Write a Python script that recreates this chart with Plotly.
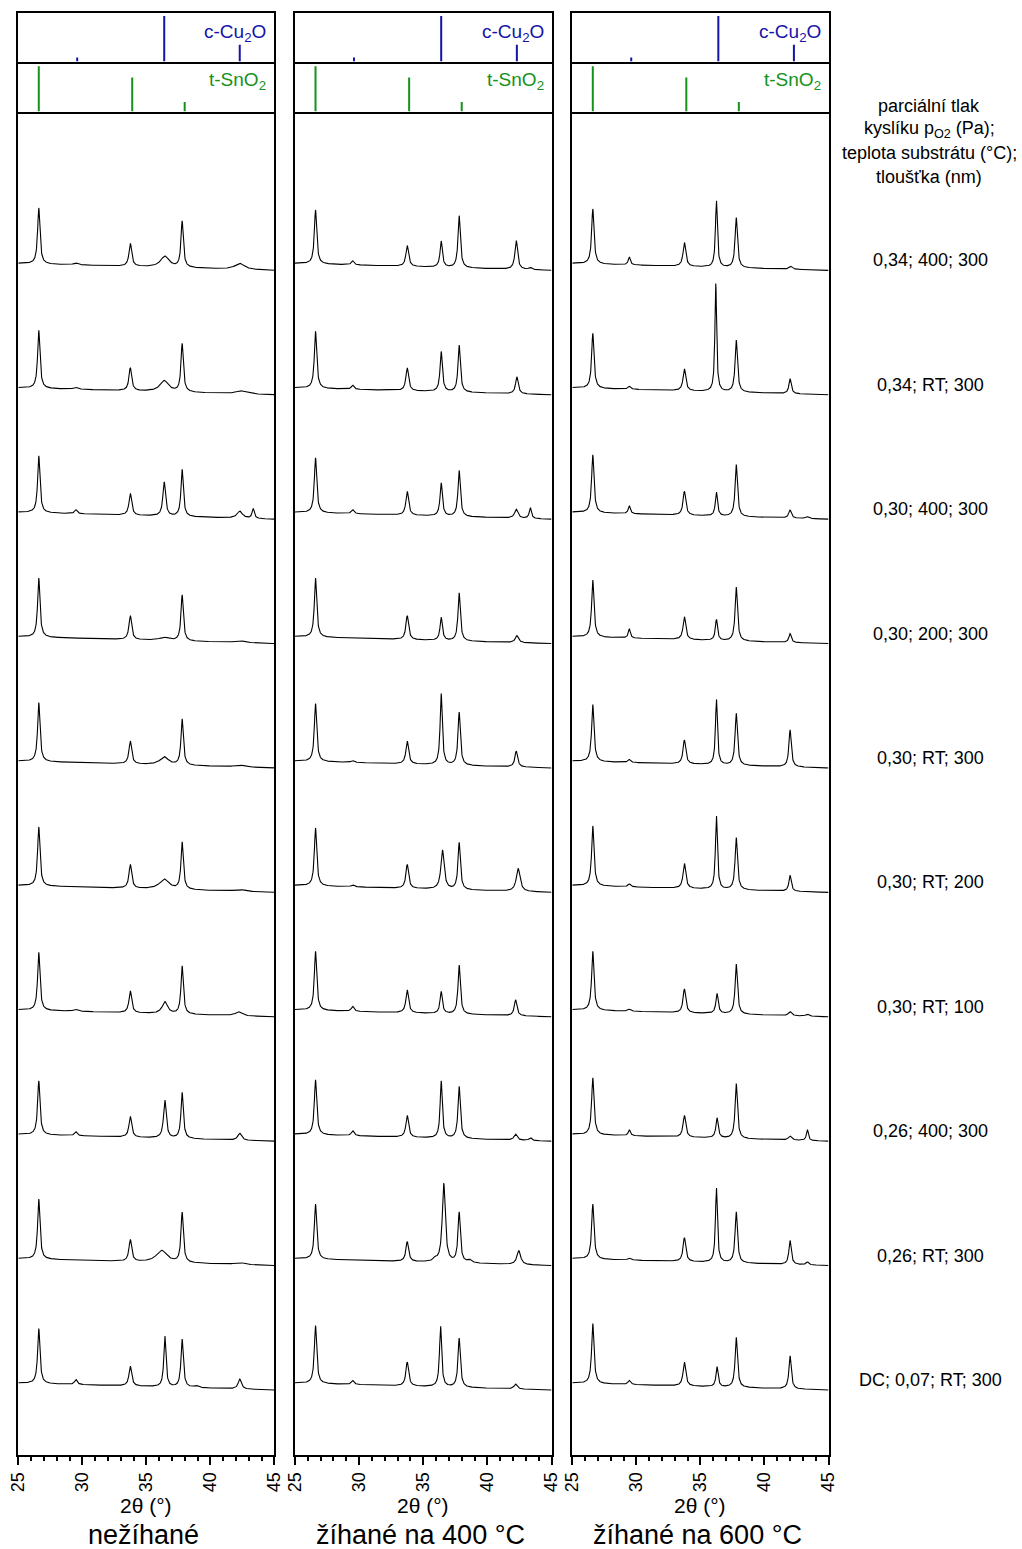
import numpy as np
import plotly.graph_objects as go

# ---------------------------------------------------------------- data ----
# Reference diffraction lines (2theta in degrees, relative intensity)
CU2O_POS = [29.6, 36.4, 42.3]
CU2O_INT = [9, 100, 37]
SNO2_POS = [26.6, 33.9, 38.0]
SNO2_INT = [100, 75, 21]

# Deposition conditions: pO2 (Pa); substrate temperature (degC); thickness (nm)
SAMPLE_LABELS = [
    "0,34; 400; 300",
    "0,34; RT; 300",
    "0,30; 400; 300",
    "0,30; 200; 300",
    "0,30; RT; 300",
    "0,30; RT; 200",
    "0,30; RT; 100",
    "0,26; 400; 300",
    "0,26; RT; 300",
    "DC; 0,07; RT; 300",
]

COLUMN_TITLES = ["nežíhané", "žíhané na 400 °C", "žíhané na 600 °C"]

# Fitted reflections per pattern: (2theta, intensity in a.u., FWHM)
PEAKS_ASDEP = [
    [(26.6, 56, .22), (29.5, 2, .4), (33.75, 23, .25), (36.45, 11, .8), (37.8, 46, .22), (42.3, 6, .9)],
    [(26.6, 58, .22), (29.5, 2, .4), (33.75, 23, .25), (36.4, 11, .8), (37.8, 48, .22), (42.4, 3, .9)],
    [(26.6, 57, .22), (29.5, 4, .25), (33.75, 22, .25), (36.4, 34, .25), (37.8, 47, .22), (42.3, 7, .5), (43.35, 10, .2)],
    [(26.6, 59, .22), (33.75, 24, .25), (36.4, 3, .9), (37.8, 46, .22), (42.3, 2, .9)],
    [(26.6, 59, .22), (33.75, 23, .25), (36.4, 8, .8), (37.8, 46, .22), (42.3, 2, .9)],
    [(26.6, 59, .22), (33.75, 24, .25), (36.4, 10, .9), (37.8, 47, .22), (42.3, 2, .9)],
    [(26.6, 58, .22), (29.5, 2, .4), (33.75, 22, .25), (36.45, 12, .5), (37.8, 48, .22), (42.2, 4, .6)],
    [(26.6, 54, .22), (29.5, 4, .25), (33.75, 21, .25), (36.45, 38, .25), (37.8, 46, .22), (42.3, 7, .35)],
    [(26.6, 60, .22), (33.75, 22, .25), (36.2, 12, 1.0), (37.8, 50, .22), (42.3, 2, .9)],
    [(26.6, 55, .22), (29.5, 5, .25), (33.75, 20, .25), (36.45, 51, .2), (37.8, 48, .22), (38.9, 2, .4), (42.3, 10, .3)],
]

PEAKS_400 = [
    [(26.6, 54, .22), (29.5, 4, .25), (33.75, 21, .25), (36.4, 26, .22), (37.8, 52, .22), (42.25, 29, .25), (43.35, 2, .3)],
    [(26.6, 57, .22), (29.5, 4, .25), (33.75, 23, .25), (36.4, 40, .22), (37.8, 47, .22), (42.3, 17, .25)],
    [(26.6, 55, .22), (29.5, 4, .25), (33.75, 24, .25), (36.4, 33, .22), (37.8, 46, .22), (42.25, 9, .3), (43.35, 11, .2)],
    [(26.6, 59, .22), (33.75, 24, .25), (36.4, 23, .22), (37.8, 48, .22), (42.3, 7, .3)],
    [(26.6, 58, .22), (29.5, 2, .3), (33.75, 23, .25), (36.4, 71, .2), (37.8, 53, .22), (42.25, 16, .25)],
    [(26.6, 58, .22), (29.5, 2, .3), (33.75, 24, .25), (36.5, 39, .3), (37.8, 47, .22), (42.4, 23, .35)],
    [(26.6, 59, .22), (29.5, 5, .25), (33.75, 23, .25), (36.4, 22, .22), (37.8, 49, .22), (42.2, 16, .25)],
    [(26.6, 55, .22), (29.5, 5, .25), (33.75, 22, .25), (36.4, 57, .2), (37.8, 52, .22), (42.2, 6, .3), (43.35, 3, .25)],
    [(26.6, 55, .22), (33.75, 20, .25), (35.9, 3, .3), (36.6, 79, .28), (37.8, 50, .22), (38.6, 3, .4), (42.45, 14, .35)],
    [(26.6, 58, .22), (29.5, 4, .25), (33.75, 24, .25), (36.35, 61, .2), (37.8, 49, .22), (42.2, 5, .3)],
]

PEAKS_600 = [
    [(26.6, 55, .22), (29.45, 8, .2), (33.75, 24, .25), (36.25, 67, .18), (37.8, 50, .22), (42.05, 3, .3)],
    [(26.6, 55, .22), (29.45, 3, .25), (33.75, 22, .25), (36.2, 108, .16), (37.8, 52, .22), (42.0, 15, .22)],
    [(26.6, 58, .22), (29.45, 8, .2), (33.75, 24, .25), (36.25, 24, .2), (37.8, 52, .22), (42.0, 8, .25), (43.35, 2, .3)],
    [(26.6, 57, .22), (29.45, 9, .2), (33.75, 23, .25), (36.25, 21, .2), (37.8, 54, .22), (42.0, 9, .22)],
    [(26.6, 57, .22), (29.45, 3, .25), (33.75, 24, .25), (36.25, 66, .18), (37.8, 52, .22), (42.0, 37, .22)],
    [(26.6, 60, .22), (29.45, 3, .25), (33.75, 25, .25), (36.25, 74, .18), (37.8, 52, .22), (42.0, 16, .22)],
    [(26.6, 59, .22), (29.45, 2, .3), (33.75, 24, .25), (36.3, 20, .22), (37.8, 50, .22), (42.0, 4, .3), (43.35, 2, .3)],
    [(26.6, 57, .22), (29.45, 6, .2), (33.75, 22, .25), (36.3, 20, .22), (37.8, 55, .22), (42.0, 4, .3), (43.35, 11, .18)],
    [(26.6, 55, .22), (29.45, 2, .3), (33.75, 24, .25), (36.25, 75, .18), (37.8, 51, .22), (42.0, 24, .22), (43.35, 3, .25)],
    [(26.6, 60, .22), (29.45, 4, .25), (33.75, 24, .25), (36.3, 20, .2), (37.8, 50, .22), (42.0, 33, .22)],
]

BASELINE_DROP = 7.0      # background decrease from 25 to 45 deg (a.u.)
STACK_STEP = 124.4       # vertical offset between stacked patterns
STACK_BOTTOM = 72.0      # offset of the lowest pattern

# -------------------------------------------------------------- layout ----
W, H = 1022, 1549
FONT = "Arial, Liberation Sans, sans-serif"
BLUE = "#1414A8"
GREEN = "#14921A"
FRAME_W = 2

COL_X = [(18.3, 274.3), (295.0, 551.5), (572.3, 828.5)]
# panels leave a gap of one frame width so that neighbouring frame lines coincide
ROW_Y = [(13.3, 61.5), (63.5, 111.5), (113.5, 1455.0)]
MAIN_RANGE = ROW_Y[2][1] - ROW_Y[2][0]


def fx(px):
    return px / W


def fy(px):
    return 1 - px / H


two_theta = np.round(np.arange(25.0, 45.0 + 1e-9, 0.02), 3)


def pattern(peaks):
    y = -BASELINE_DROP * (two_theta - 25.0) / 20.0
    for pos, height, fwhm in peaks:
        hw = fwhm / 2.0
        y = y + height / (1.0 + ((two_theta - pos) / hw) ** 2)
    return y


def sticks(positions, intensities):
    xs, ys = [], []
    for p, i in zip(positions, intensities):
        xs += [p, p, None]
        ys += [0, i, None]
    return xs, ys


fig = go.Figure()
layout = dict(
    width=W, height=H, autosize=False,
    margin=dict(l=0, r=0, t=0, b=0, pad=0),
    paper_bgcolor="white", plot_bgcolor="white",
    showlegend=False,
    font=dict(family=FONT, color="black", size=18),
)

annotations = []
all_sets = [PEAKS_ASDEP, PEAKS_400, PEAKS_600]

for c in range(3):
    x0, x1 = COL_X[c]
    for r in range(3):
        idx = 3 * c + r + 1
        xname = "xaxis" if idx == 1 else f"xaxis{idx}"
        yname = "yaxis" if idx == 1 else f"yaxis{idx}"
        xref = "x" if idx == 1 else f"x{idx}"
        yref = "y" if idx == 1 else f"y{idx}"
        y0, y1 = ROW_Y[r]
        xa = dict(
            domain=[fx(x0), fx(x1)], range=[25, 45], anchor=yref,
            showline=True, mirror=True, linewidth=FRAME_W, linecolor="black",
            showgrid=False, zeroline=False, fixedrange=True, automargin=False,
        )
        ya = dict(
            domain=[fy(y1), fy(y0)], anchor=xref,
            showline=True, mirror=True, linewidth=FRAME_W, linecolor="black",
            showgrid=False, zeroline=False, showticklabels=False, ticks="",
            fixedrange=True, automargin=False,
        )
        if r == 2:
            xa.update(
                tickmode="array", tickvals=[25, 30, 35, 40, 45],
                ticktext=["25", "30", "35", "40", "45"],
                ticks="outside", ticklen=8, tickwidth=1.5, tickcolor="black",
                tickangle=-90, tickfont=dict(size=18, family=FONT, color="black"),
                minor=dict(dtick=1, tick0=25, ticks="outside", ticklen=4,
                           tickwidth=1.5, tickcolor="black"),
            )
            ya.update(range=[0, MAIN_RANGE])
        else:
            xa.update(showticklabels=False, ticks="")
            ya.update(range=[0, 106])
        layout[xname] = xa
        layout[yname] = ya

        if r == 0:
            sx, sy = sticks(CU2O_POS, CU2O_INT)
            fig.add_trace(go.Scatter(x=sx, y=sy, xaxis=xref, yaxis=yref, mode="lines",
                                     line=dict(color=BLUE, width=2), hoverinfo="skip"))
            annotations.append(dict(
                x=fx(x1 - 6), y=fy(33), xref="paper", yref="paper",
                xanchor="right", yanchor="middle", showarrow=False,
                text="c-Cu<sub>2</sub>O", font=dict(size=19, color=BLUE, family=FONT)))
        elif r == 1:
            sx, sy = sticks(SNO2_POS, SNO2_INT)
            fig.add_trace(go.Scatter(x=sx, y=sy, xaxis=xref, yaxis=yref, mode="lines",
                                     line=dict(color=GREEN, width=2), hoverinfo="skip"))
            annotations.append(dict(
                x=fx(x1 - 6), y=fy(81), xref="paper", yref="paper",
                xanchor="right", yanchor="middle", showarrow=False,
                text="t-SnO<sub>2</sub>", font=dict(size=19, color=GREEN, family=FONT)))
        else:
            for k, peaks in enumerate(all_sets[c]):
                offset = STACK_BOTTOM + STACK_STEP * (9 - k)
                fig.add_trace(go.Scatter(
                    x=two_theta, y=pattern(peaks) + offset, xaxis=xref, yaxis=yref,
                    mode="lines", line=dict(color="black", width=1.1), hoverinfo="skip"))

    cx = (x0 + x1) / 2
    annotations.append(dict(
        x=fx(cx), y=fy(1505), xref="paper", yref="paper", showarrow=False,
        xanchor="center", yanchor="middle", text="2θ (°)",
        font=dict(size=21, family=FONT, color="black")))
    annotations.append(dict(
        x=fx(cx - 3), y=fy(1535), xref="paper", yref="paper", showarrow=False,
        xanchor="center", yanchor="middle", text=COLUMN_TITLES[c],
        font=dict(size=27, family=FONT, color="black")))

# legend of the stacked patterns on the right
header = ["parciální tlak", "kyslíku p<sub>O2</sub> (Pa);",
          "teplota substrátu (°C);", "tloušťka (nm)"]
for i, line in enumerate(header):
    annotations.append(dict(
        x=fx(929), y=fy(106 + 23.7 * i), xref="paper", yref="paper",
        showarrow=False, xanchor="center", yanchor="middle", text=line,
        font=dict(size=18, family=FONT, color="black")))

for k, lab in enumerate(SAMPLE_LABELS):
    offset = STACK_BOTTOM + STACK_STEP * (9 - k)
    annotations.append(dict(
        x=fx(930), y=offset + 3, xref="paper", yref="y3",
        showarrow=False, xanchor="center", yanchor="middle", text=lab,
        font=dict(size=18, family=FONT, color="black")))

layout["annotations"] = annotations
fig.update_layout(**layout)
fig.write_html("out.html")
